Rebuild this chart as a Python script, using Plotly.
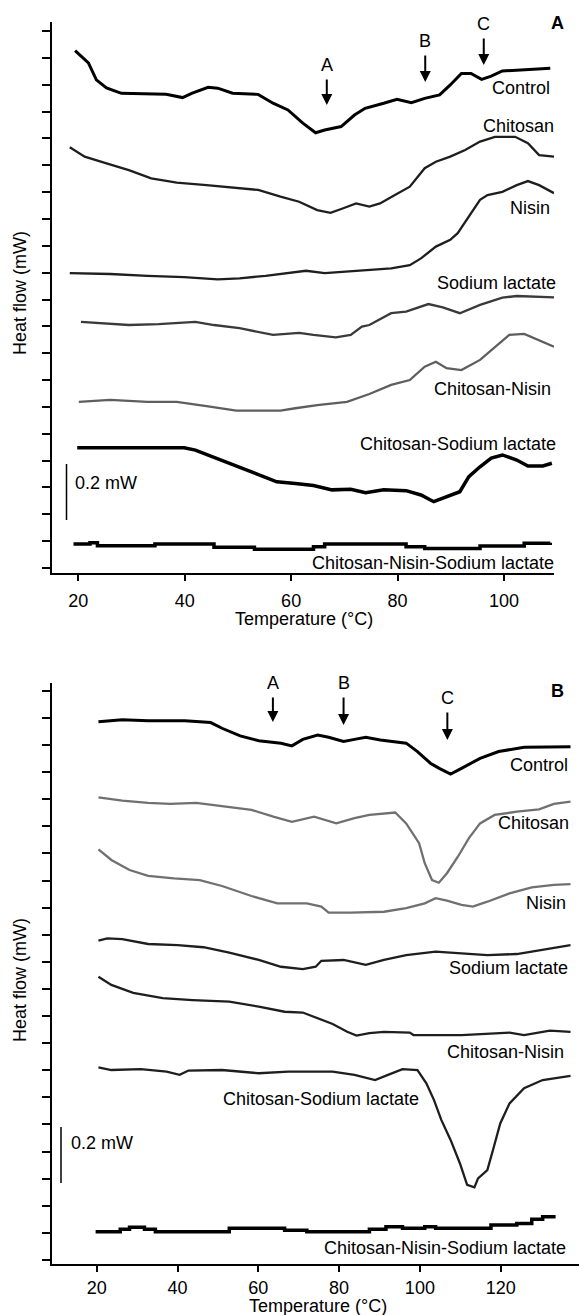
import plotly.graph_objects as go

W, H = 579, 1315

# ---------------- Panel A data (Temperature °C, heat flow mW, offset traces) ----------------
a_control_t = [19.4, 21.9, 23.4, 25.3, 28.1, 36.5, 39.6, 41.3, 44.4, 46.2, 49.0, 53.8, 56.6, 59.4, 62.2, 64.6, 66.3,
               69.4, 71.9, 73.9, 77.4, 79.9, 82.6, 85.1, 87.9, 89.9, 92.0, 93.8, 95.8, 97.6, 99.7, 104.5, 108.7]
a_control_v = [1.927, 1.881, 1.818, 1.788, 1.768, 1.764, 1.752, 1.768, 1.790, 1.787, 1.768, 1.764, 1.731, 1.706,
               1.657, 1.621, 1.631, 1.644, 1.687, 1.712, 1.731, 1.746, 1.733, 1.749, 1.762, 1.799, 1.842, 1.842,
               1.820, 1.832, 1.851, 1.855, 1.861]

a_chitosan_t = [18.4, 21.2, 25.3, 29.5, 33.7, 38.5, 44.1, 49.7, 53.8, 58.0, 61.5, 64.9, 67.4, 69.8, 72.2, 74.7,
                76.7, 79.5, 82.3, 85.1, 87.2, 89.9, 92.7, 95.5, 98.3, 102.1, 104.5, 106.6, 109.4]
a_chitosan_v = [1.567, 1.532, 1.507, 1.482, 1.451, 1.435, 1.426, 1.414, 1.408, 1.383, 1.364, 1.333, 1.323, 1.340,
                1.358, 1.346, 1.358, 1.389, 1.420, 1.489, 1.513, 1.532, 1.557, 1.588, 1.606, 1.606, 1.582, 1.538,
                1.532]

a_nisin_t = [18.4, 26.0, 33.0, 39.9, 46.2, 50.3, 55.2, 59.4, 62.8, 66.3, 70.5, 74.7, 78.8, 82.3, 84.4, 87.2,
             89.9, 91.3, 93.4, 95.5, 96.9, 99.7, 102.4, 104.5, 106.6, 109.4]
a_nisin_v = [1.098, 1.095, 1.088, 1.083, 1.075, 1.079, 1.088, 1.098, 1.107, 1.098, 1.104, 1.110, 1.116, 1.128,
             1.153, 1.197, 1.222, 1.247, 1.308, 1.371, 1.389, 1.401, 1.426, 1.441, 1.426, 1.396]

a_sodlac_t = [20.5, 25.0, 29.5, 35.1, 42.0, 45.5, 50.3, 56.6, 61.5, 64.2, 68.4, 71.2, 73.3, 74.7, 78.8, 81.6,
              85.8, 88.5, 91.7, 95.5, 99.7, 102.4, 109.4]
a_sodlac_v = [0.917, 0.911, 0.905, 0.908, 0.917, 0.905, 0.893, 0.868, 0.876, 0.868, 0.859, 0.868, 0.899, 0.905,
              0.949, 0.955, 0.983, 0.971, 0.949, 0.980, 1.007, 1.013, 1.008]

a_chinis_t = [20.1, 26.0, 33.0, 38.5, 44.1, 49.7, 55.2, 58.0, 60.8, 64.9, 70.5, 74.7, 78.8, 82.3, 85.1, 87.2,
              89.2, 92.0, 95.5, 98.3, 101.0, 103.8, 106.6, 109.4]
a_chinis_v = [0.619, 0.626, 0.619, 0.619, 0.603, 0.586, 0.586, 0.586, 0.595, 0.607, 0.619, 0.648, 0.682, 0.700,
              0.750, 0.768, 0.744, 0.737, 0.775, 0.824, 0.868, 0.872, 0.849, 0.824]

a_chisl_t = [19.8, 39.9, 42.0, 46.9, 52.4, 57.3, 60.8, 64.2, 67.7, 71.2, 74.0, 77.4, 81.6, 84.4, 86.8, 89.2,
             91.7, 93.4, 95.5, 97.6, 99.7, 102.4, 104.5, 107.3, 109.0]
a_chisl_v = [0.448, 0.448, 0.439, 0.402, 0.359, 0.321, 0.315, 0.307, 0.291, 0.293, 0.280, 0.291, 0.288, 0.272,
             0.247, 0.266, 0.284, 0.340, 0.377, 0.409, 0.421, 0.402, 0.380, 0.380, 0.390]

a_cns_t = [19.1, 22.2, 23.6, 34.4, 45.5, 53.1, 62.2, 64.2, 66.3, 81.6, 85.1, 95.5, 103.8, 108.7]
a_cns_v = [0.089, 0.094, 0.083, 0.089, 0.077, 0.070, 0.070, 0.079, 0.089, 0.079, 0.073, 0.082, 0.092, 0.094]

# ---------------- Panel B data ----------------
b_control_t = [20.4, 26.3, 32.7, 41.8, 48.2, 51.0, 55.5, 60.1, 65.6, 68.3, 71.0, 74.7, 77.4, 81.1, 83.8, 86.6,
               90.2, 96.6, 99.4, 102.6, 104.8, 107.6, 110.3, 114.9, 119.5, 125.8, 137.3]
b_control_v = [1.986, 1.993, 1.990, 1.990, 1.983, 1.962, 1.934, 1.916, 1.907, 1.897, 1.921, 1.937, 1.929, 1.913,
               1.921, 1.929, 1.919, 1.907, 1.876, 1.833, 1.814, 1.793, 1.814, 1.851, 1.876, 1.892, 1.894]

b_chitosan_t = [20.4, 26.3, 32.7, 38.2, 44.6, 51.0, 58.3, 63.7, 68.3, 73.8, 79.3, 83.8, 87.5, 93.9, 96.6, 99.8,
                101.2, 103.0, 104.7, 106.7, 109.4, 112.1, 114.9, 118.5, 124.0, 129.5, 133.2, 137.3]
b_chitosan_v = [1.707, 1.695, 1.687, 1.683, 1.687, 1.675, 1.661, 1.636, 1.617, 1.636, 1.611, 1.630, 1.642, 1.651,
                1.611, 1.538, 1.464, 1.402, 1.392, 1.427, 1.488, 1.556, 1.611, 1.642, 1.654, 1.663, 1.683, 1.691]

b_nisin_t = [20.4, 23.6, 28.1, 32.7, 39.1, 45.5, 51.0, 58.3, 64.7, 72.0, 75.6, 77.4, 82.9, 91.1, 96.6, 101.2,
             103.9, 106.7, 110.3, 113.1, 116.7, 122.2, 127.7, 133.2, 137.3]
b_nisin_v = [1.515, 1.476, 1.439, 1.417, 1.408, 1.402, 1.380, 1.343, 1.316, 1.316, 1.304, 1.282, 1.282, 1.285,
             1.298, 1.316, 1.335, 1.326, 1.310, 1.304, 1.322, 1.353, 1.375, 1.384, 1.387]

b_sodlac_t = [20.4, 22.6, 26.3, 32.7, 40.0, 46.4, 52.8, 60.1, 65.6, 71.0, 74.2, 75.6, 81.1, 86.6, 91.1, 96.6,
              103.9, 111.2, 116.7, 124.0, 131.3, 137.3]
b_sodlac_v = [1.178, 1.187, 1.184, 1.166, 1.162, 1.154, 1.134, 1.107, 1.082, 1.073, 1.082, 1.104, 1.107, 1.089,
              1.107, 1.125, 1.138, 1.132, 1.125, 1.129, 1.146, 1.162]

b_chinis_t = [20.4, 23.6, 29.0, 36.3, 43.7, 52.8, 60.1, 66.5, 71.0, 74.7, 78.4, 82.0, 84.3, 87.5, 91.1, 97.5,
              98.4, 110.3, 114.9, 122.2, 125.8, 132.2, 137.3]
b_chinis_v = [1.045, 1.015, 0.986, 0.966, 0.959, 0.953, 0.935, 0.916, 0.913, 0.892, 0.871, 0.842, 0.828, 0.837,
              0.842, 0.839, 0.830, 0.830, 0.834, 0.839, 0.830, 0.846, 0.842]

b_chisl_t = [20.4, 23.6, 30.9, 37.3, 40.5, 42.7, 51.0, 60.1, 67.4, 78.4, 83.8, 88.9, 92.1, 95.7, 99.4, 101.6,
             103.5, 105.3, 107.6, 109.9, 111.7, 113.5, 114.4, 116.7, 118.1, 119.9, 122.2, 125.8, 130.4, 137.3]
b_chisl_v = [0.711, 0.701, 0.704, 0.695, 0.683, 0.699, 0.701, 0.689, 0.695, 0.695, 0.683, 0.664, 0.683, 0.704,
             0.701, 0.652, 0.590, 0.517, 0.443, 0.357, 0.277, 0.268, 0.301, 0.332, 0.406, 0.504, 0.578, 0.634,
             0.664, 0.679]

b_cns_t = [19.7, 25.8, 28.1, 31.8, 34.5, 52.8, 66.5, 72.0, 87.5, 91.6, 95.7, 101.2, 103.9, 117.6, 124.0, 127.7,
           130.4, 133.6]
b_cns_v = [0.104, 0.113, 0.121, 0.113, 0.104, 0.117, 0.110, 0.104, 0.113, 0.123, 0.117, 0.123, 0.117, 0.129,
           0.135, 0.150, 0.160, 0.160]

a_ticks = [20, 40, 60, 80, 100]
b_ticks = [20, 40, 60, 80, 100, 120]
a_arrows = {"A": 66.7, "B": 85.2, "C": 96.2}
b_arrows = {"A": 63.6, "B": 81.1, "C": 106.8}

FONT = "Liberation Sans, Arial, sans-serif"
FS = 18


def px(x, y):
    return x / W, 1 - y / H


fig = go.Figure()

a_series = [
    (a_control_t, a_control_v, "black", 3.0, "linear"),
    (a_chitosan_t, a_chitosan_v, "#1e1e1e", 2.3, "linear"),
    (a_nisin_t, a_nisin_v, "#1e1e1e", 2.3, "linear"),
    (a_sodlac_t, a_sodlac_v, "#3a3a3a", 2.3, "linear"),
    (a_chinis_t, a_chinis_v, "#5e5e5e", 2.3, "linear"),
    (a_chisl_t, a_chisl_v, "black", 3.5, "linear"),
    (a_cns_t, a_cns_v, "black", 3.5, "hv"),
]
b_series = [
    (b_control_t, b_control_v, "black", 3.0, "linear"),
    (b_chitosan_t, b_chitosan_v, "#707070", 2.3, "linear"),
    (b_nisin_t, b_nisin_v, "#707070", 2.3, "linear"),
    (b_sodlac_t, b_sodlac_v, "#1e1e1e", 2.3, "linear"),
    (b_chinis_t, b_chinis_v, "#1e1e1e", 2.3, "linear"),
    (b_chisl_t, b_chisl_v, "#1e1e1e", 2.3, "linear"),
    (b_cns_t, b_cns_v, "black", 3.5, "hv"),
]
for t, v, c, w, s in a_series:
    fig.add_trace(go.Scatter(x=t, y=v, mode="lines", line=dict(color=c, width=w, shape=s),
                             xaxis="x", yaxis="y", showlegend=False, hoverinfo="skip"))
for t, v, c, w, s in b_series:
    fig.add_trace(go.Scatter(x=t, y=v, mode="lines", line=dict(color=c, width=w, shape=s),
                             xaxis="x2", yaxis="y2", showlegend=False, hoverinfo="skip"))

axis_common = dict(showgrid=False, zeroline=False, showline=True, linecolor="black", linewidth=2,
                   ticks="outside", tickcolor="black", tickwidth=2,
                   tickfont=dict(family=FONT, size=FS, color="black"))

fig.update_layout(
    width=W, height=H, margin=dict(l=0, r=0, t=0, b=0),
    paper_bgcolor="white", plot_bgcolor="white",
    xaxis=dict(domain=[52 / W, 554 / W], range=[15.06, 109.4], anchor="y", tickvals=a_ticks,
               ticklen=6, ticklabelstandoff=4, **axis_common),
    yaxis=dict(domain=[1 - 573 / H, 1 - 22 / H], range=[-0.0186, 2.0335], anchor="x", tick0=0, dtick=0.1,
               ticklen=8, showticklabels=False, **axis_common),
    xaxis2=dict(domain=[52 / W, 1.0], range=[8.9, 139.4], anchor="y2", tickvals=b_ticks,
                ticklen=6, ticklabelstandoff=0, **axis_common),
    yaxis2=dict(domain=[1 - 1264 / H, 1 - 683 / H], range=[-0.0148, 2.129], anchor="x2", tick0=0, dtick=0.1,
                ticklen=8, showticklabels=False, **axis_common),
)

ann = []


def text(x, y, s, xanchor="center", size=FS, bold=False, angle=0):
    xp, yp = px(x, y)
    ann.append(dict(x=xp, y=yp, xref="paper", yref="paper", text=f"<b>{s}</b>" if bold else s,
                    showarrow=False, xanchor=xanchor, yanchor="middle", textangle=angle,
                    font=dict(family=FONT, size=size, color="black")))


# Panel A curve labels
for s, x, y in [("Control", 552, 88), ("Chitosan", 556, 126), ("Nisin", 552, 208),
                ("Sodium lactate", 558, 283), ("Chitosan-Nisin", 553, 389),
                ("Chitosan-Sodium lactate", 558, 444), ("Chitosan-Nisin-Sodium lactate", 556, 563)]:
    text(x, y, s, xanchor="right")
# Panel B curve labels
for s, x, y in [("Control", 570, 765), ("Chitosan", 571, 823), ("Nisin", 568, 903),
                ("Sodium lactate", 570, 968), ("Chitosan-Nisin", 566, 1052),
                ("Chitosan-Sodium lactate", 421, 1099), ("Chitosan-Nisin-Sodium lactate", 568, 1248)]:
    text(x, y, s, xanchor="right")

# panel letters
text(557, 23, "A", bold=True)
text(557, 691, "B", bold=True)

# axis titles
text(304, 619, "Temperature (°C)")
text(318, 1306, "Temperature (°C)")
text(20, 293, "Heat flow (mW)", angle=-90)
text(20, 980, "Heat flow (mW)", angle=-90)

# scale bars
text(73, 483, "0.2 mW", xanchor="left")
text(69, 1143, "0.2 mW", xanchor="left")
shapes = []
for x, y0, y1 in [(66.5, 464, 520), (61, 1127, 1183)]:
    shapes.append(dict(type="line", xref="paper", yref="paper", x0=x / W, x1=x / W,
                       y0=1 - y0 / H, y1=1 - y1 / H, line=dict(color="black", width=1.5)))

# arrows
arrow_pos_a = {"A": (105, 65), "B": (82, 41), "C": (65, 24)}
arrow_pos_b = {"A": (722, 683), "B": (725, 683), "C": (740, 698)}
for arrows, pos, xr in [(a_arrows, arrow_pos_a, "x"), (b_arrows, arrow_pos_b, "x2")]:
    for k, t in arrows.items():
        tip, lab = pos[k]
        ann.append(dict(x=t, y=1 - tip / H, xref=xr, yref="paper", text="", showarrow=True,
                        arrowhead=2, arrowsize=1.1, arrowwidth=2, arrowcolor="black",
                        ax=0, ay=-(tip - lab - 13)))
        ann.append(dict(x=t, y=1 - lab / H, xref=xr, yref="paper", text=k, showarrow=False,
                        xanchor="center", yanchor="middle",
                        font=dict(family=FONT, size=FS, color="black")))

fig.update_layout(annotations=ann, shapes=shapes)
fig.write_html("out.html", config={"displayModeBar": False, "staticPlot": True},
               post_script="document.body.style.margin='0px';document.body.style.overflow='hidden';")
